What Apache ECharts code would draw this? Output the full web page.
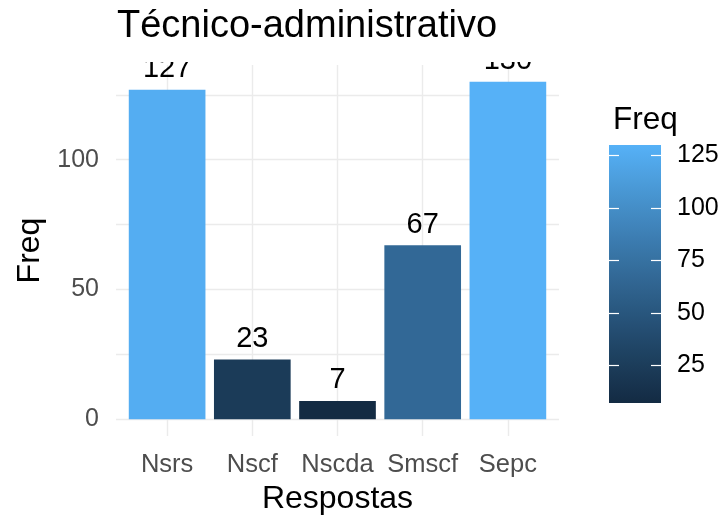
<!DOCTYPE html>
<html>
<head>
<meta charset="utf-8">
<script src="https://cdn.jsdelivr.net/npm/echarts@6/dist/echarts.min.js"></script>
<style>
  html, body { margin: 0; padding: 0; background: #fff; }
  #chart { width: 725px; height: 516px; }
</style>
</head>
<body>
<div id="chart"></div>
<script>
// Data
const categories = ['Nsrs', 'Nscf', 'Nscda', 'Smscf', 'Sepc'];
const freq = [127, 23, 7, 67, 130];
const yTicks = [0, 25, 50, 75, 100, 125];
const yLabels = [0, 50, 100];
const legendTicks = [25, 50, 75, 100, 125];

// Layout
const FONT = 'Liberation Sans, Arial, sans-serif';
const grid = { left: 116, right: 166, top: 65, bottom: 80 };
const W = 725, H = 516;
const plotW = W - grid.left - grid.right;
const xMin = 0.4, xMax = categories.length + 0.6;
const barW = 0.9 * plotW / (xMax - xMin);
const yMin = Math.min(0, ...freq), yMax = Math.max(...freq);
const yPad = (yMax - yMin) * 0.05;

// Colour ramp: low -> high, interpolated in CIE Lab
const LOW = '#132B43', HIGH = '#56B1F7';
function hexToRgb(h) { return [1, 3, 5].map(i => parseInt(h.substr(i, 2), 16) / 255); }
function toLin(c) { return c <= 0.04045 ? c / 12.92 : Math.pow((c + 0.055) / 1.055, 2.4); }
function fromLin(c) { return c <= 0.0031308 ? 12.92 * c : 1.055 * Math.pow(c, 1 / 2.4) - 0.055; }
const WHITE = [0.95047, 1.0, 1.08883];
function f(t) { return t > 216 / 24389 ? Math.cbrt(t) : (24389 / 27 * t + 16) / 116; }
function fi(t) { return t * t * t > 216 / 24389 ? t * t * t : (116 * t - 16) / (24389 / 27); }
function hexToLab(h) {
  const [r, g, b] = hexToRgb(h).map(toLin);
  const X = 0.4124 * r + 0.3576 * g + 0.1805 * b;
  const Y = 0.2126 * r + 0.7152 * g + 0.0722 * b;
  const Z = 0.0193 * r + 0.1192 * g + 0.9505 * b;
  const fx = f(X / WHITE[0]), fy = f(Y / WHITE[1]), fz = f(Z / WHITE[2]);
  return [116 * fy - 16, 500 * (fx - fy), 200 * (fy - fz)];
}
function labToHex(lab) {
  const fy = (lab[0] + 16) / 116, fx = fy + lab[1] / 500, fz = fy - lab[2] / 200;
  const X = fi(fx) * WHITE[0], Y = fi(fy) * WHITE[1], Z = fi(fz) * WHITE[2];
  const r = 3.2406 * X - 1.5372 * Y - 0.4986 * Z;
  const g = -0.9689 * X + 1.8758 * Y + 0.0415 * Z;
  const b = 0.0557 * X - 0.2040 * Y + 1.0570 * Z;
  return '#' + [r, g, b].map(c => {
    const v = Math.round(Math.min(1, Math.max(0, fromLin(c))) * 255);
    return v.toString(16).padStart(2, '0');
  }).join('');
}
const labLow = hexToLab(LOW), labHigh = hexToLab(HIGH);
function ramp(t) { return labToHex(labLow.map((v, i) => v + (labHigh[i] - v) * t)); }
const NSTOP = 16;
const rampColors = Array.from({ length: NSTOP + 1 }, (_, i) => ramp(i / NSTOP));

const cMin = Math.min(...freq), cMax = Math.max(...freq);

// Colour bar geometry
const bar = { left: 609, top: 145, width: 52, height: 258 };

const chart = echarts.init(document.getElementById('chart'), null, { renderer: 'canvas' });
chart.setOption({
  backgroundColor: '#ffffff',
  animation: false,
  title: [
    {
      text: 'Técnico-administrativo', left: 112, top: 3, z: 60,
      textStyle: { fontFamily: FONT, fontSize: 38, fontWeight: 'normal', color: '#000' }
    },
    {
      text: 'Freq', left: 608, top: 99, z: 60,
      textStyle: { fontFamily: FONT, fontSize: 31.5, fontWeight: 'normal', color: '#000' }
    }
  ],
  grid: [
    {
      left: grid.left, right: grid.right, top: grid.top, bottom: grid.bottom,
      containLabel: false, outerBoundsMode: 'none'
    },
    {
      left: bar.left, top: bar.top, width: bar.width, height: bar.height, show: true, borderWidth: 0,
      containLabel: false, outerBoundsMode: 'none',
      backgroundColor: {
        type: 'linear', x: 0, y: 1, x2: 0, y2: 0,
        colorStops: rampColors.map((c, i) => ({ offset: i / NSTOP, color: c }))
      }
    }
  ],
  visualMap: {
    type: 'continuous', show: false, seriesIndex: 0, dimension: 1,
    min: cMin, max: cMax, inRange: { color: rampColors }
  },
  xAxis: [
    {
      type: 'value', gridIndex: 0, min: xMin, max: xMax,
      name: 'Respostas', nameLocation: 'middle', nameGap: 47,
      nameTextStyle: { fontFamily: FONT, fontSize: 32, color: '#000' },
      axisLine: { show: false },
      axisTick: { show: false, customValues: categories.map((_, i) => i + 1) },
      axisLabel: {
        customValues: categories.map((_, i) => i + 1), margin: 16,
        formatter: v => categories[Math.round(v) - 1] || '',
        fontFamily: FONT, fontSize: 25.5, color: '#4D4D4D'
      },
      splitLine: { show: true, lineStyle: { color: '#EBEBEB', width: 1.4 } }
    },
    { type: 'value', gridIndex: 1, min: 0, max: 1, show: false }
  ],
  yAxis: [
    {
      type: 'value', gridIndex: 0, min: yMin - yPad, max: yMax + yPad,
      name: 'Freq', nameLocation: 'middle', nameRotate: 90, nameGap: 70,
      nameTextStyle: { fontFamily: FONT, fontSize: 32, color: '#000' },
      axisLine: { show: false },
      axisTick: { show: false, customValues: yTicks },
      axisLabel: {
        customValues: yLabels, margin: 17,
        fontFamily: FONT, fontSize: 25, color: '#4D4D4D'
      },
      splitLine: { show: true, lineStyle: { color: '#EBEBEB', width: 1.4 } }
    },
    {
      type: 'value', gridIndex: 1, min: cMin, max: cMax, position: 'left',
      axisLine: { show: false },
      axisTick: { show: true, inside: true, length: 10, customValues: legendTicks,
        lineStyle: { color: '#ffffff', width: 1.2 } },
      axisLabel: { show: false },
      splitLine: { show: false }
    },
    {
      type: 'value', gridIndex: 1, min: cMin, max: cMax, position: 'right',
      axisLine: { show: false },
      axisTick: { show: true, inside: true, length: 10, customValues: legendTicks,
        lineStyle: { color: '#ffffff', width: 1.2 } },
      axisLabel: { show: true, customValues: legendTicks, margin: 16,
        fontFamily: FONT, fontSize: 25, color: '#000' },
      splitLine: { show: false }
    }
  ],
  series: [
    {
      type: 'bar', xAxisIndex: 0, yAxisIndex: 0,
      barWidth: barW,
      data: freq.map((v, i) => [i + 1, v]),
      label: {
        show: true, position: 'top', distance: 6,
        formatter: p => p.value[1],
        fontFamily: FONT, fontSize: 29, color: '#000'
      }
    }
  ],
  graphic: [
    {
      // the panel clips text that rises above its top edge
      type: 'rect', z: 50, silent: true,
      shape: { x: 0, y: 0, width: W - grid.right, height: grid.top - 3 },
      style: { fill: '#ffffff' }
    }
  ]
});
</script>
</body>
</html>
